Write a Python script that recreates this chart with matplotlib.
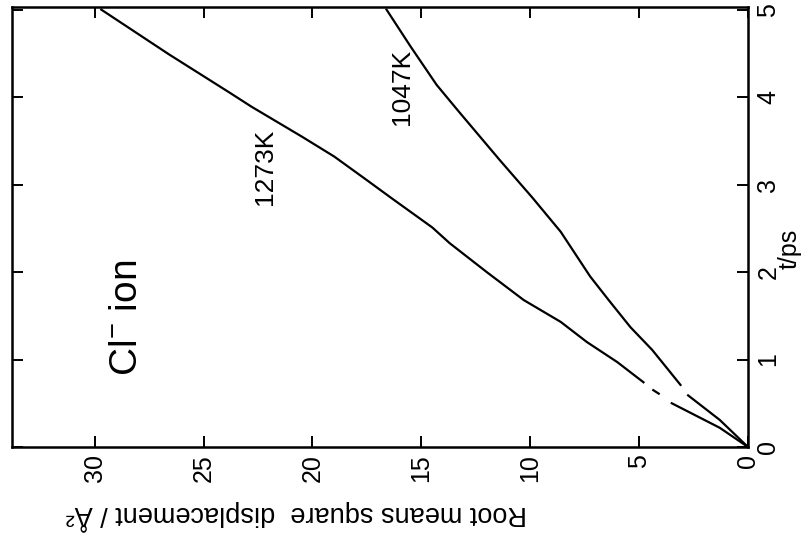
import numpy as np
import matplotlib
matplotlib.use("Agg")
import matplotlib.pyplot as plt

plt.rcParams['font.family'] = ['Liberation Sans', 'DejaVu Sans']
plt.rcParams['mathtext.default'] = 'regular'

nan = np.nan

# time (ps) and rms displacement for the two runs, nan = gap in the trace
t_1273 = [0, 0.22, 0.50, nan, 0.61, 0.65, nan, 0.74, 0.97, 1.20, 1.43, 1.68, 2.00,
          2.33, 2.51, 2.85, 3.05, 3.32, 3.55, 3.89, 4.05, 4.49, 5.00]
rmsd_1273 = [0, 1.3, 3.5, nan, 4.1, 4.35, nan, 4.8, 6.0, 7.4, 8.6, 10.3, 12.0,
             13.7, 14.5, 16.4, 17.5, 19.0, 20.5, 22.8, 23.8, 26.6, 29.7]

t_1047 = [0, 0.31, 0.59, nan, 0.71, 1.11, 1.37, 1.68, 1.95, 2.46, 2.85, 3.28,
          3.84, 4.14, 4.58, 5.00]
rmsd_1047 = [0, 1.3, 2.75, nan, 3.1, 4.4, 5.4, 6.4, 7.25, 8.6, 9.9, 11.4,
             13.3, 14.3, 15.5, 16.6]

rmsd_ticks = [0, 5, 10, 15, 20, 25, 30]
t_ticks = [0, 1, 2, 3, 4, 5]

fig = plt.figure(figsize=(8.05, 5.38), dpi=100)
ax = fig.add_axes([12/805, 1 - 447/538, 736/805, 440/538])

# page is turned: rmsd runs right->left along the bottom, time runs up the right side
ax.plot(rmsd_1273, t_1273, color='black', lw=1.6)
ax.plot(rmsd_1047, t_1047, color='black', lw=1.6)

ax.set_xlim(33.8, 0)
ax.set_ylim(0, 5.03)
ax.set_xticks(rmsd_ticks)
ax.set_yticks(t_ticks)

ax.yaxis.tick_right()
ax.tick_params(direction='in', length=8, width=1.4, top=True, bottom=True,
               left=True, right=True, labelleft=False, labelright=True,
               labelsize=18)
ax.tick_params(axis='x', labelrotation=90, pad=5)
ax.tick_params(axis='y', labelrotation=90, pad=6)
for lbl in ax.get_yticklabels():
    lbl.set_va('center')

for side in ax.spines.values():
    side.set_linewidth(1.8)

ax.set_xlabel('Root means square  displacement / Å²', fontsize=19.5,
              rotation=180, va='center', ha='center')
ax.xaxis.set_label_coords(0.386, -0.155)
ax.yaxis.set_label_position('right')
ax.set_ylabel('t/ps', fontsize=18, rotation=90, va='center', ha='center')
ax.yaxis.set_label_coords(1.056, 0.45)

ax.text(22.2, 3.2, '1273K', fontsize=19, rotation=90, ha='center', va='center')
ax.text(15.9, 4.12, '1047K', fontsize=19, rotation=90, ha='center', va='center')
ax.text(28.5, 1.48, 'Cl$^{-}$ ion', fontsize=28, rotation=90, ha='center', va='center')

fig.savefig('out.png', dpi=100, facecolor='white')
